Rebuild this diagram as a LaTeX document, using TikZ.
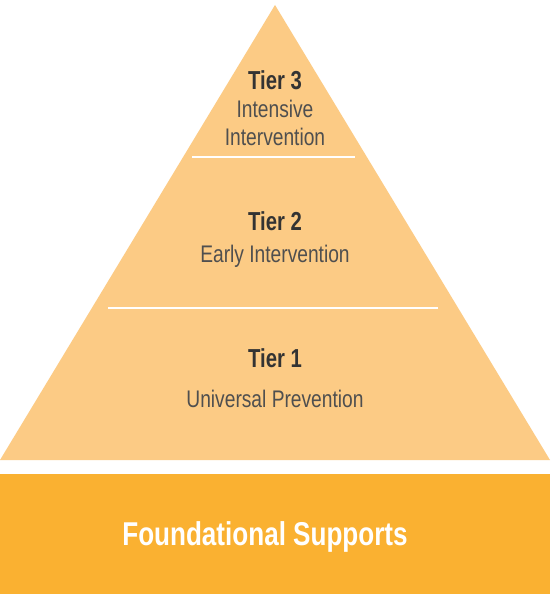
\documentclass[tikz,border=0pt]{standalone}
\usepackage{fontspec}
\setmainfont{Liberation Sans}
\newfontfamily\titlefont[FakeStretch=0.78]{Liberation Sans}
\newfontfamily\tierfont[FakeStretch=0.80]{Liberation Sans}
\newfontfamily\basefont[FakeStretch=0.79]{Liberation Sans}
\definecolor{tri}{HTML}{FCCB85}
\definecolor{base}{HTML}{FAB131}
\definecolor{ink}{HTML}{333333}
\definecolor{inksoft}{HTML}{4F4F4F}
\tikzset{
  tiertitle/.style={font=\titlefont\fontsize{26}{29}\selectfont\bfseries, text=ink, inner sep=0pt, anchor=base},
  tiertext/.style={font=\tierfont\fontsize{24}{27}\selectfont, text=inksoft, inner sep=0pt, anchor=base},
  sepline/.style={draw=white, line width=2.2pt}
}
\begin{document}
\begin{tikzpicture}[x=1pt,y=-1pt]
\fill[white] (0,0) rectangle (550,594);
\useasboundingbox (0,0) rectangle (550,594);
\fill[tri] (275,5) -- (550,460) -- (0,460) -- cycle;
\fill[base] (0,474) rectangle (550,594);
\coordinate (s1a) at (192,157);
\coordinate (s1b) at (355,157);
\coordinate (s2a) at (108,308);
\coordinate (s2b) at (438,308);
\draw[sepline] (s1a) -- (s1b);
\draw[sepline] (s2a) -- (s2b);
\node[tiertitle] (t3) at (275,89) {Tier 3};
\node[tiertext] (t3a) at (275,117) {Intensive};
\node[tiertext] (t3b) at (275,145) {Intervention};
\node[tiertitle] (t2) at (275,230) {Tier 2};
\node[tiertext] (t2a) at (275,262) {Early Intervention};
\node[tiertitle] (t1) at (275,367) {Tier 1};
\node[tiertext] (t1a) at (275,407) {Universal Prevention};
\node[font=\basefont\fontsize{33}{36}\selectfont\bfseries, text=white, inner sep=0pt, anchor=base] (fs) at (265,545) {Foundational Supports};
\end{tikzpicture}
\end{document}
